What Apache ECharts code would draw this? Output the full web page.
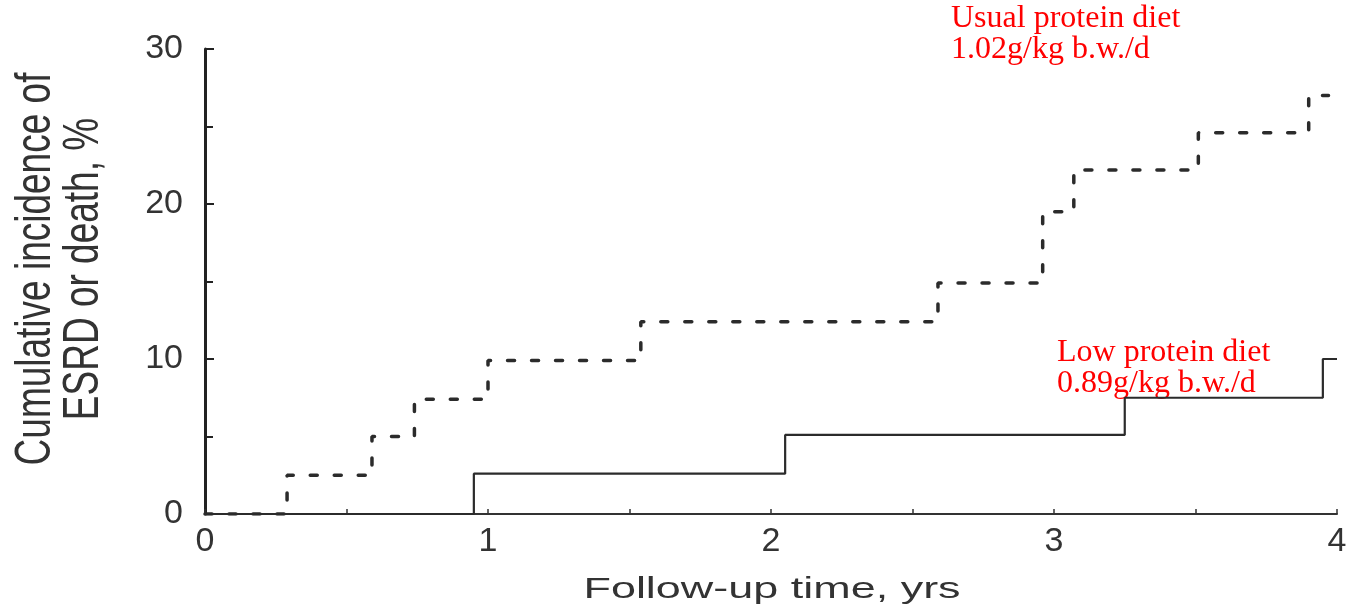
<!DOCTYPE html>
<html>
<head>
<meta charset="utf-8">
<title>Cumulative incidence of ESRD or death</title>
<script src="https://cdn.jsdelivr.net/npm/echarts/dist/echarts.min.js"></script>
<style>
  html, body {margin: 0; padding: 0; background: #fff;}
  #chart {width: 1355px; height: 616px;}
</style>
</head>
<body>
<div id="chart"></div>
<script>
// follow-up time (yrs) where each step starts, and the level after the step
const usualTime = [0, 0.29, 0.59, 0.74, 1.0, 1.54, 2.59, 2.96, 3.07, 3.51, 3.90, 3.97];
const usualPct = [0, 2.5, 5.0, 7.4, 9.9, 12.4, 14.9, 19.5, 22.2, 24.6, 27.0, 27.0];
const lowTime = [0, 0.95, 2.05, 3.25, 3.95, 4.0];
const lowPct = [0, 2.6, 5.1, 7.5, 10.0, 10.0];

const xTicks = [0, 1, 2, 3, 4];
const yTicks = [0, 10, 20, 30];

const usualLabel = 'Usual protein diet\n1.02g/kg b.w./d';
const lowLabel = 'Low protein diet\n0.89g/kg b.w./d';
const xName = 'Follow-up time, yrs';
const yName = 'Cumulative incidence of\nESRD or death, %';

const ink = '#2b2b2b';
const sans = '"Liberation Sans", Arial, sans-serif';
const serif = '"Liberation Serif", "Times New Roman", serif';

const pairs = (xs, ys) => xs.map((x, i) => [x, ys[i]]);

const myChart = echarts.init(document.getElementById('chart'));

myChart.setOption({
  animation: false,
  grid: {left: 205, right: 18, top: 49, bottom: 102},
  xAxis: {
    type: 'value',
    min: xTicks[0],
    max: xTicks[xTicks.length - 1],
    interval: 1,
    splitLine: {show: false},
    axisLine: {lineStyle: {color: '#333', width: 2}},
    axisTick: {inside: true, length: 5, lineStyle: {color: '#333', width: 1.5}},
    minorTick: {show: true, splitNumber: 2, length: 5, lineStyle: {color: '#333', width: 1.5}},
    axisLabel: {color: '#333', fontFamily: sans, fontSize: 34, margin: 11}
  },
  yAxis: {
    type: 'value',
    min: yTicks[0],
    max: yTicks[yTicks.length - 1],
    interval: 10,
    splitLine: {show: false},
    axisLine: {show: true, lineStyle: {color: '#222', width: 3}},
    axisTick: {show: true, inside: true, length: 9, lineStyle: {color: '#222', width: 2}},
    minorTick: {show: true, splitNumber: 2, length: 8, lineStyle: {color: '#222', width: 2}},
    axisLabel: {color: '#333', fontFamily: sans, fontSize: 34, margin: 22}
  },
  series: [
    {
      name: 'Usual protein diet',
      type: 'line',
      step: 'end',
      symbol: 'none',
      data: pairs(usualTime, usualPct),
      lineStyle: {color: ink, width: 3.5, type: [7, 17], cap: 'round'}
    },
    {
      name: 'Low protein diet',
      type: 'line',
      step: 'end',
      symbol: 'none',
      data: pairs(lowTime, lowPct),
      lineStyle: {color: ink, width: 2.2}
    }
  ],
  graphic: [
    {
      type: 'text', x: 951, y: 3,
      style: {text: usualLabel, font: '32px ' + serif, fill: '#ff0000', lineHeight: 31}
    },
    {
      type: 'text', x: 1057, y: 337,
      style: {text: lowLabel, font: '32px ' + serif, fill: '#ff0000', lineHeight: 31}
    },
    {
      type: 'text', x: 772, y: 590, scaleX: 1.55,
      style: {text: xName, font: '29px ' + sans, fill: '#333', align: 'center', verticalAlign: 'middle'}
    },
    {
      type: 'text', x: 60, y: 269, rotation: Math.PI / 2, scaleY: 1.33,
      style: {text: yName, font: '37px ' + sans, fill: '#333', align: 'center', verticalAlign: 'middle', lineHeight: 36}
    }
  ]
});
</script>
</body>
</html>
